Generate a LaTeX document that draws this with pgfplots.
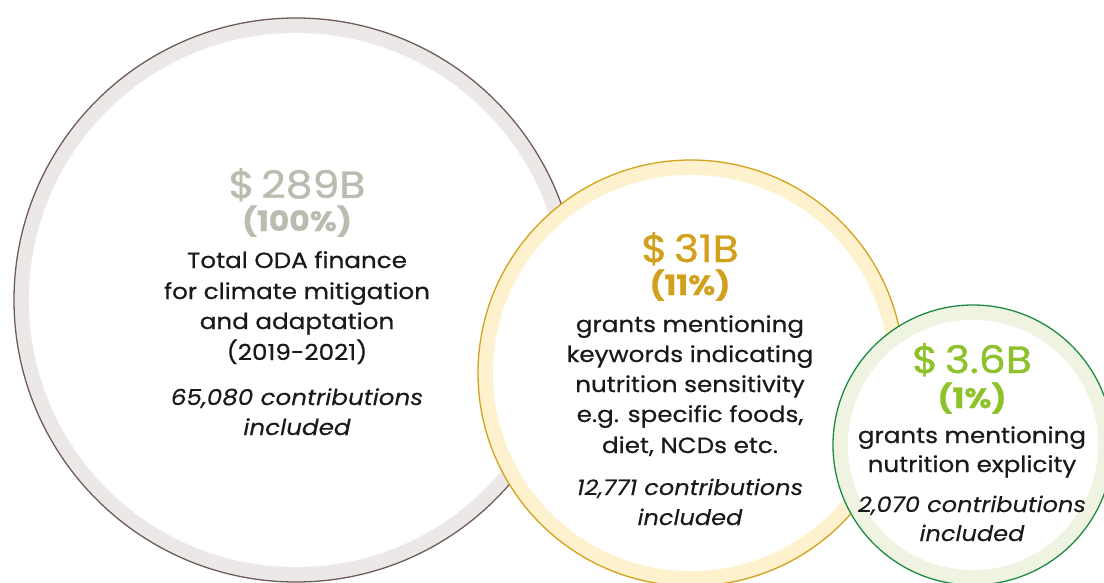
\documentclass[border=0pt]{standalone}
\usepackage{pgfplots}
\pgfplotsset{compat=1.18}
\usepackage{pgfplotstable}
\usepackage{fontspec}
\setmainfont{Poppins}[FakeStretch=1.12, FakeBold=0.6]
\newfontfamily\headfont{Poppins}[FakeStretch=1.12, FakeBold=0.9]
\newfontfamily\itfont{Poppins}[FakeStretch=1.12, FakeBold=0.15]

\definecolor{bigline}{HTML}{6E5C5A}
\definecolor{bigring}{HTML}{ECE8E7}
\definecolor{bigtext}{HTML}{BCBBB0}
\definecolor{medline}{HTML}{D4A21C}
\definecolor{medring}{HTML}{FDF2CD}
\definecolor{medtext}{HTML}{D3A01E}
\definecolor{smline}{HTML}{1E8A45}
\definecolor{smring}{HTML}{EEF4E1}
\definecolor{smtext}{HTML}{8DC22A}
\definecolor{bodytext}{HTML}{1A1A1A}

% circles: centre (x, y from top) and outer radius, in pixels
\pgfplotstableread{
x y r
296 300 282
}\bigcircle
\pgfplotstableread{
x y r
691 373 213
}\medcircle
\pgfplotstableread{
x y r
973 445 140
}\smcircle

\pgfplotsset{
  bubble/.style n args={4}{only marks, mark=*, scatter,
    point meta=\thisrow{r},
    visualization depends on={\thisrow{r}-#3 \as \rad},
    scatter/use mapped color={draw=#1, fill=#2},
    scatter/@pre marker code/.append style={/tikz/mark size=\rad pt},
    mark options={line width=#4}},
}

\begin{document}
\begin{tikzpicture}
\begin{axis}[
  x=1pt, y=1pt,
  xmin=0, xmax=1104, ymin=0, ymax=583,
  y dir=reverse,
  enlargelimits=false,
  hide axis,
  clip marker paths=true,
  axis background/.style={fill=white},
]
% big circle
\addplot[bubble={bigline}{bigring}{0}{1.3pt}] table {\bigcircle};
\addplot[bubble={white}{white}{15}{0.1pt}] table {\bigcircle};
% medium circle
\addplot[bubble={medline}{medring}{0}{1.3pt}] table {\medcircle};
\addplot[bubble={white}{white}{15}{0.1pt}] table {\medcircle};
% small circle
\addplot[bubble={smline}{smring}{0}{1.3pt}] table {\smcircle};
\addplot[bubble={white}{white}{15}{0.1pt}] table {\smcircle};

% texts, big circle
\node[anchor=base, text=bigtext, font=\headfont\fontsize{38}{40}\selectfont] at (axis cs:297,198) {\$\,289B};
\node[anchor=base, text=bigtext, font=\bfseries\fontsize{28}{30}\selectfont] at (axis cs:297,231) {(100\%)};
\begin{scope}[every node/.style={anchor=base, text=bodytext, font=\fontsize{22}{22}\selectfont}]
\node at (axis cs:297,268) {Total ODA finance};
\node at (axis cs:297,299) {for climate mitigation};
\node at (axis cs:297,329) {and adaptation};
\node at (axis cs:297,360) {(2019-2021)};
\node[font=\itfont\itshape\fontsize{22}{22}\selectfont] at (axis cs:297,405) {65,080 contributions};
\node[font=\itfont\itshape\fontsize{22}{22}\selectfont] at (axis cs:297,435) {included};
\end{scope}

% texts, medium circle
\node[anchor=base, text=medtext, font=\headfont\fontsize{38}{40}\selectfont] at (axis cs:690,262) {\$\,31B};
\node[anchor=base, text=medtext, font=\bfseries\fontsize{28}{30}\selectfont] at (axis cs:690,295) {(11\%)};
\begin{scope}[every node/.style={anchor=base, text=bodytext, font=\fontsize{22}{22}\selectfont}]
\node at (axis cs:690,332) {grants mentioning};
\node at (axis cs:690,362) {keywords indicating};
\node at (axis cs:690,392) {nutrition sensitivity};
\node at (axis cs:690,422) {e.g. specific foods,};
\node at (axis cs:690,453) {diet, NCDs etc.};
\node[font=\itfont\itshape\fontsize{21.5}{22}\selectfont] at (axis cs:690,495) {12,771 contributions};
\node[font=\itfont\itshape\fontsize{21.5}{22}\selectfont] at (axis cs:690,525) {included};
\end{scope}

% texts, small circle
\node[anchor=base, text=smtext, font=\headfont\fontsize{38}{40}\selectfont] at (axis cs:972,373) {\$\,3.6B};
\node[anchor=base, text=smtext, font=\bfseries\fontsize{28}{30}\selectfont] at (axis cs:972,408) {(1\%)};
\begin{scope}[every node/.style={anchor=base, text=bodytext, font=\fontsize{22}{22}\selectfont}]
\node at (axis cs:972,443) {grants mentioning};
\node at (axis cs:972,472) {nutrition explicity};
\node[font=\itfont\itshape\fontsize{21.5}{22}\selectfont] at (axis cs:972,512) {2,070 contributions};
\node[font=\itfont\itshape\fontsize{21.5}{22}\selectfont] at (axis cs:972,541) {included};
\end{scope}
\end{axis}
\end{tikzpicture}
\end{document}
